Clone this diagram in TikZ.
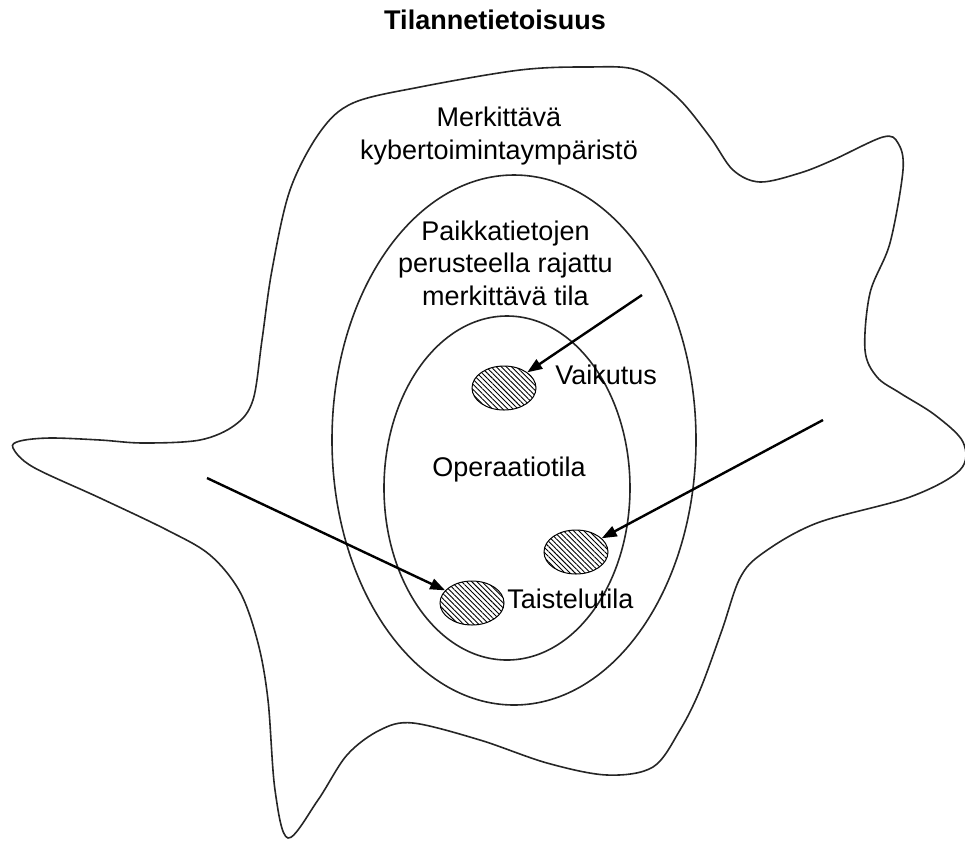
\documentclass[tikz,border=0pt]{standalone}
\usepackage{fontspec}
\setmainfont{Liberation Sans}
\usepackage{tikz}
\usetikzlibrary{shapes.geometric,arrows.meta,patterns.meta}
\tikzset{
  region/.style={
    draw=black!85,
    line width=0.8pt
  },
  spot/.style={
    shape = ellipse,
    draw,
    line width=0.5pt,
    inner sep = 0pt,
    minimum width = 32pt,
    minimum height = 22pt,
    pattern = {Lines[angle=-45,distance=1.8pt,line width=0.45pt]}
  },
  pointer/.style={
    line width=1.2pt,
    -{Triangle[length=7.5pt,width=5.5pt]}
  },
  lbl/.style={
    font=\fontsize{13.5}{16.25}\selectfont,
    inner sep = 0pt,
    align = center
  }
}

\begin{document}
\begin{tikzpicture}[x=0.5pt,y=-0.5pt]
  \useasboundingbox (0,0) rectangle (965,843);
  % outer region
  \draw[region] plot[smooth cycle, tension=0.55] coordinates {
    (13,448) (33,467) (100,498) (167,530) (210,555) (240,592) (258,643)
    (268,700) (275,790) (288,838) (318,800) (347,755) (380,730) (413,723)
    (480,740) (547,763) (607,775) (653,767) (680,730) (700,690) (722,630)
    (740,578) (763,553) (817,523) (910,497) (960,470) (963,442) (935,415)
    (900,393) (877,377) (865,350) (870,293) (890,243) (903,170) (898,143)
    (883,137) (833,160) (800,173) (760,182) (733,170) (710,137) (677,97)
    (637,70) (587,67) (520,70) (420,87) (353,103) (320,132) (290,190)
    (272,270) (262,340) (253,400) (235,425) (200,440) (143,443) (100,440)
    (50,438) (20,441)};
  % nested regions
  \draw[region] (514,440) ellipse [x radius=182, y radius=265];
  \draw[region] (507,488) ellipse [x radius=123, y radius=172];

  % spots
  \node[spot] (effect) at (504,388) {};
  \node[spot] (target) at (576,552) {};
  \node[spot] (battle) at (472,603) {};

  \coordinate (fromtop) at (642,295);
  \coordinate (fromright) at (823,420);
  \coordinate (fromleft) at (207,478);
  \draw[pointer] (fromtop) -- (effect);
  \draw[pointer] (fromright) -- (target);
  \draw[pointer] (fromleft) -- (battle);

  % labels
  \node[lbl, anchor=base] (title) at (495,29) {\bfseries Tilannetietoisuus};
  \node[lbl] (cyber) at (499,136) {Merkittävä\\kybertoimintaympäristö};
  \node[lbl] (geo) at (505.5,263) {Paikkatietojen\\perusteella rajattu\\merkittävä tila};
  \node[lbl, anchor=base] (ops) at (509,476) {Operaatiotila};
  \node[lbl, anchor=base west] (effectlbl) at (555,384) {Vaikutus};
  \node[lbl, anchor=base west] (battlelbl) at (507,608) {Taistelutila};
\end{tikzpicture}
\end{document}
